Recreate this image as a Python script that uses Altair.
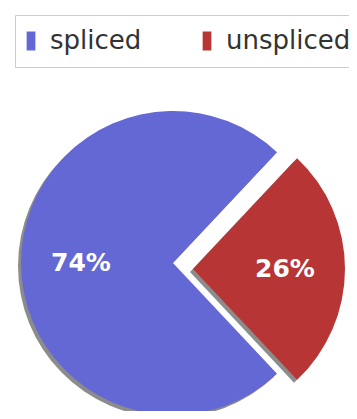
import math
import altair as alt
import pandas as pd

categories = ["spliced", "unspliced"]
values = [74, 26]
colors = ["#6468d4", "#b83535"]

df = pd.DataFrame({"category": categories, "value": values, "idx": [0, 1]})

total = sum(values)
start = math.pi / 2 + math.pi * values[1] / total
theta_scale = alt.Scale(domain=[0, total], range=[start, start + 2 * math.pi])

W, H = 341, 403
cx, cy = 165, 255
ex, ey = 20, 6
R = 152
SDX, SDY = -3, 3


def arc(cat, dx, dy, shadow=False):
    enc = dict(
        theta=alt.Theta("value:Q", stack=True, scale=theta_scale),
        order=alt.Order("idx:Q"),
        x=alt.value(cx + dx),
        y=alt.value(cy + dy),
        opacity=alt.condition(alt.datum.category == cat, alt.value(1), alt.value(0)),
    )
    if shadow:
        mark = alt.Chart(df).mark_arc(outerRadius=R, color="#8c8c8c")
    else:
        enc["color"] = alt.Color(
            "category:N",
            scale=alt.Scale(domain=categories, range=colors),
            legend=alt.Legend(
                title=None,
                orient="none",
                legendX=7,
                legendY=7,
                direction="horizontal",
                labelFontSize=26,
                labelFont="DejaVu Sans",
                labelColor="#333333",
                symbolType="M-0.46,-1H0.46V1H-0.46Z",
                symbolSize=361,
                symbolStrokeWidth=0,
                symbolOffset=-10,
                strokeColor="#cccccc",
                padding=13,
                columnPadding=60,
                labelOffset=6,
                symbolOpacity=1,
            ),
        )
        mark = alt.Chart(df).mark_arc(outerRadius=R)
    return mark.encode(**enc)


def label(cat, dx, dy):
    return (
        alt.Chart(df)
        .transform_calculate(label="datum.value + '%'")
        .mark_text(font="DejaVu Sans", fontSize=25, fontWeight="bold", color="white")
        .encode(
            theta=alt.Theta("value:Q", stack=True, scale=theta_scale),
            order=alt.Order("idx:Q"),
            radius=alt.value(92),
            x=alt.value(cx + dx),
            y=alt.value(cy + dy),
            text="label:N",
            opacity=alt.condition(alt.datum.category == cat, alt.value(1), alt.value(0)),
        )
    )


chart = alt.layer(
    arc("spliced", SDX, SDY, shadow=True),
    arc("unspliced", ex + SDX, ey + SDY, shadow=True),
    arc("spliced", 0, 0),
    arc("unspliced", ex, ey),
    label("spliced", 0, 0),
    label("unspliced", ex, ey),
).properties(
    width=W, height=H, autosize=alt.AutoSizeParams(type="none"), padding=0
).configure_view(stroke=None)

chart.save("out.html", embed_options={"renderer": "svg", "actions": False})
